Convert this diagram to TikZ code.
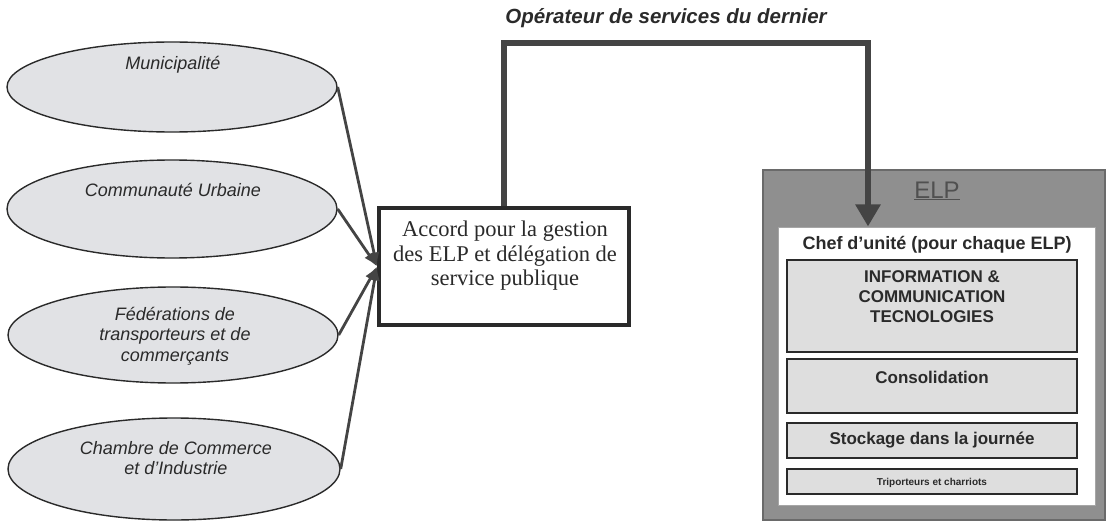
\documentclass[tikz,border=0pt]{standalone}
\usepackage{fontspec}
\setmainfont{Liberation Sans}
\newfontfamily\bookface{Liberation Serif}
\usetikzlibrary{arrows.meta,shapes.geometric}

\definecolor{ink}{HTML}{2A2A2A}
\definecolor{ellfill}{HTML}{E1E2E5}
\definecolor{elpgray}{HTML}{8F8F8F}
\definecolor{elpedge}{HTML}{6A6A6A}
\definecolor{panel}{HTML}{DEDEDE}
\definecolor{wire}{HTML}{444444}
\definecolor{elplabel}{HTML}{505050}

\begin{document}
\begin{tikzpicture}[x=1pt,y=-1pt,
  actor/.style={ellipse, draw=ink, line width=1.4pt, fill=ellfill, inner sep=0pt},
  actortext/.style={font=\fontsize{18}{20.5}\selectfont\itshape, text=ink, align=center},
  feed/.style={draw=wire, line width=2.8pt, -{Latex[length=14pt,width=11pt]}},
  layer/.style={rectangle, draw=ink, line width=1.8pt, fill=panel, minimum width=290pt, inner sep=0pt},
  layertext/.style={font=\bfseries\fontsize{17}{20}\selectfont, text=ink, align=center},
  bigwire/.style={draw=wire, line width=6pt, line join=miter}
]
\useasboundingbox (0,0) rectangle (1112,524);

% stakeholders
\node[actor, minimum width=330pt, minimum height=90pt]  (muni) at (172,87)  {};
\node[actor, minimum width=330pt, minimum height=98pt]  (comm) at (172,209) {};
\node[actor, minimum width=330pt, minimum height=96pt]  (fede) at (173,335) {};
\node[actor, minimum width=332pt, minimum height=102pt] (cham) at (174,469) {};
\node[actortext] (munit) at (173,65)  {Municipalité};
\node[actortext] (commt) at (173,190) {Communauté Urbaine};
\node[actortext] (fedet) at (175,336) {Fédérations de\\transporteurs et de\\commerçants};
\node[actortext] (chamt) at (176,458) {Chambre de Commerce\\et d'Industrie};

% agreement box
\node[rectangle, draw=ink, line width=4pt, fill=white, minimum width=250pt, minimum height=117pt, inner sep=0pt] (accord) at (504,266.5) {};
\node[font=\bookface\fontsize{22.5}{24.5}\selectfont, text=ink, align=center] (accordt) at (505,256)
  {Accord pour la gestion\\des ELP et délégation de\\service publique};

\foreach \s in {muni,comm,fede,cham}
  \draw[feed] (\s.east) -- (accord.west);

% ELP block
\node[rectangle, draw=elpedge, line width=1.5pt, fill=elpgray, minimum width=342pt, minimum height=350pt, inner sep=0pt] (elp) at (934,345) {};
\node[font=\fontsize{24}{26}\selectfont, text=elplabel] (elpt) at (937,191) {\underline{ELP}};
\node[rectangle, draw=elpedge!60, line width=1pt, fill=white, minimum width=317pt, minimum height=278pt, inner sep=0pt] (inner) at (936.5,366) {};
\node[font=\bfseries\fontsize{18}{21}\selectfont, text=ink] (chef) at (937,245) {Chef d'unité (pour chaque ELP)};

\node[layer, minimum height=92pt] (ict)   at (932,306)   {};
\node[layertext] (ictt) at (932,297) {INFORMATION \&\\COMMUNICATION\\TECNOLOGIES};
\node[layer, minimum height=54pt] (cons)  at (932,386)   {};
\node[layertext] (const) at (932,377) {Consolidation};
\node[layer, minimum height=35pt] (stock) at (932,440.5) {};
\node[layertext] (stockt) at (932,440) {Stockage dans la journée};
\node[layer, minimum height=25pt] (trip)  at (932,481.5) {};
\node[font=\bfseries\fontsize{10}{12}\selectfont, text=ink] (tript) at (932,482.5) {Triporteurs et charriots};

% operator link
\coordinate (bend) at (868,43);
\draw[bigwire, -{Triangle[length=22pt,width=24pt]}] (accord.north) |- (bend) -- (bend |- inner.north);
\node[font=\bfseries\itshape\fontsize{20.5}{24}\selectfont, text=ink] (oper) at (666,18) {Opérateur de services du dernier};
\end{tikzpicture}
\end{document}
